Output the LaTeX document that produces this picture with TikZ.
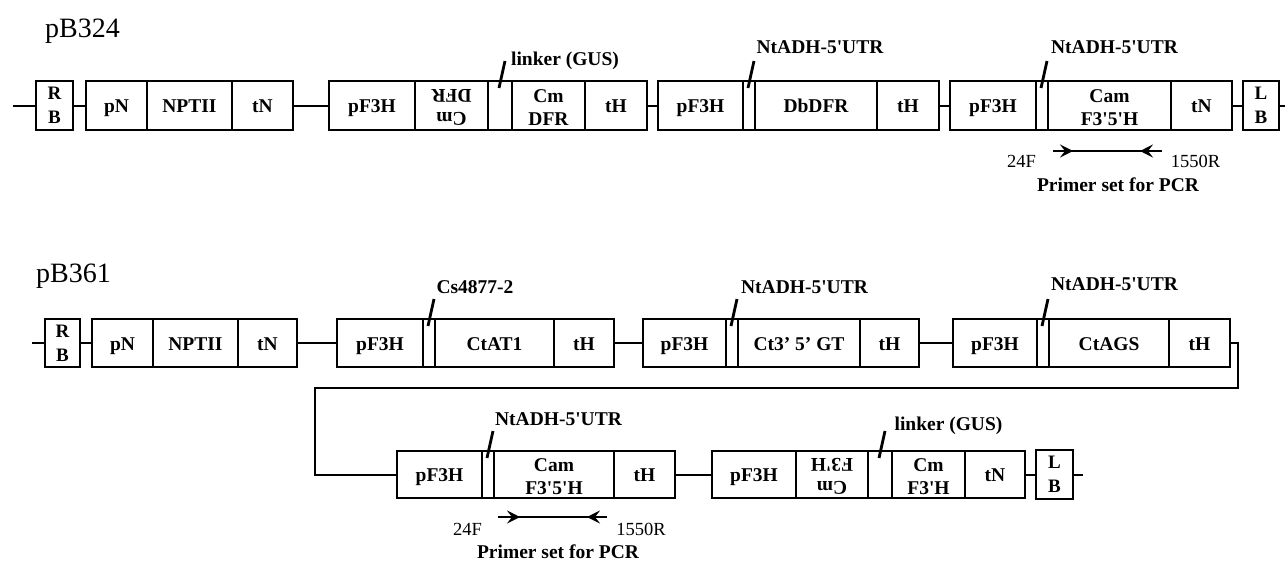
\documentclass[tikz,border=0pt]{standalone}
\usepackage{fontspec}
\usepackage{graphicx}
\setmainfont{Liberation Serif}
\usetikzlibrary{arrows.meta}
\newcommand\flipped[1]{\rotatebox[origin=c]{180}{\begin{tabular}{@{}c@{}}#1\end{tabular}}}
\newcommand\sq{\textquotesingle}
\begin{document}
\begin{tikzpicture}[x=1pt,y=-1pt,
  gene/.style={draw, line width=2pt, inner sep=0pt, outer sep=0pt, anchor=west, align=center,
    font=\bfseries\fontsize{19.5}{23}\selectfont},
  one/.style={text height=14pt, text depth=0pt},
  two/.style={text height=39pt, text depth=0pt},
  rowA/.style={gene, minimum height=49pt},
  rowB/.style={gene, minimum height=48pt},
  rowC/.style={gene, minimum height=47pt},
  border/.style={line width=2.2pt, font=\bfseries\fontsize{19}{24}\selectfont},
  wire/.style={line width=2pt},
  slash/.style={line width=2.8pt},
  lab/.style={anchor=base, inner sep=0pt, font=\bfseries\fontsize{19.5}{23}\selectfont},
  num/.style={anchor=base, inner sep=0pt, font=\fontsize{18.5}{22}\selectfont},
  title/.style={anchor=base west, inner sep=0pt, font=\fontsize{28}{32}\selectfont},
  primer/.style={line width=2pt},
  ptip/.style={line width=2pt, -{Stealth[length=13pt,width=13pt,inset=5pt]}}
]
\useasboundingbox (0,0) rectangle (1285,560);

% ---------- pB324 ----------
\node[title] (t1) at (45,37) {pB324};
\node[rowA, border, minimum width=37pt] (rb1) at (36,105.5) {R\\B};
\node[rowA, one, minimum width=61pt] (pn1) at (86,105.5) {pN};
\node[rowA, one, minimum width=85pt] (np1) at (147,105.5) {NPTII};
\node[rowA, one, minimum width=61pt] (tn1) at (232,105.5) {tN};
\node[rowA, one, minimum width=86pt] (pf1a) at (329,105.5) {pF3H};
\node[rowA, minimum width=73pt] (cmr1) at (415,105.5) {\flipped{Cm\\DFR}};
\node[rowA, minimum width=24pt] (lk1) at (488,105.5) {};
\node[rowA, two, minimum width=73pt] (cm1) at (512,105.5) {Cm\\DFR};
\node[rowA, one, minimum width=62pt] (th1a) at (585,105.5) {tH};
\node[rowA, one, minimum width=85pt] (pf1b) at (658,105.5) {pF3H};
\node[rowA, minimum width=12pt] (u1b) at (743,105.5) {};
\node[rowA, one, minimum width=122pt] (db1) at (755,105.5) {DbDFR};
\node[rowA, one, minimum width=62pt] (th1b) at (877,105.5) {tH};
\node[rowA, one, minimum width=86pt] (pf1c) at (950,105.5) {pF3H};
\node[rowA, minimum width=12pt] (u1c) at (1036,105.5) {};
\node[rowA, two, minimum width=123pt] (cam1) at (1048,105.5) {Cam\\F3\sq5\sq H};
\node[rowA, one, minimum width=61pt] (tn1b) at (1171,105.5) {tN};
\node[rowA, border, minimum width=36pt] (lb1) at (1243,105.5) {L\\B};
\coordinate (s1) at (13,105.5);
\coordinate (e1) at (1285,105.5);
\draw[wire] (s1) -- (rb1);
\draw[wire] (rb1) -- (pn1);
\draw[wire] (tn1) -- (pf1a);
\draw[wire] (th1a) -- (pf1b);
\draw[wire] (th1b) -- (pf1c);
\draw[wire] (tn1b) -- (lb1);
\draw[wire] (lb1) -- (e1);

\node[lab] (ll1) at (565,65) {linker (GUS)};
\node[lab] (lu1b) at (820,53) {NtADH-5\sq UTR};
\node[lab] (lu1c) at (1114.5,53) {NtADH-5\sq UTR};
\draw[slash] ([xshift=-1pt,yshift=-7pt]lk1.north) -- ([xshift=5pt,yshift=20pt]lk1.north);
\draw[slash] ([xshift=-1pt,yshift=-7pt]u1b.north) -- ([xshift=5pt,yshift=20pt]u1b.north);
\draw[slash] ([xshift=-1pt,yshift=-7pt]u1c.north) -- ([xshift=5pt,yshift=20pt]u1c.north);

\coordinate (pa1) at (1053,151);
\coordinate (pb1) at (1162,151);
\draw[primer] (pa1) -- (pb1);
\draw[ptip] (pa1) -- ++(20,0);
\draw[ptip] (pb1) -- ++(-22,0);
\node[num] (f1) at (1021.5,167) {24F};
\node[num] (r1) at (1195.5,167) {1550R};
\node[lab] (ps1) at (1118,191) {Primer set for PCR};

% ---------- pB361 ----------
\node[title] (t2) at (36,282) {pB361};
\node[rowB, border, minimum width=35pt] (rb2) at (45,343) {R\\B};
\node[rowB, one, minimum width=61pt] (pn2) at (92,343) {pN};
\node[rowB, one, minimum width=85pt] (np2) at (153,343) {NPTII};
\node[rowB, one, minimum width=59pt] (tn2) at (238,343) {tN};
\node[rowB, one, minimum width=86pt] (pf2a) at (337,343) {pF3H};
\node[rowB, minimum width=12pt] (u2a) at (423,343) {};
\node[rowB, one, minimum width=119pt] (at2) at (435,343) {CtAT1};
\node[rowB, one, minimum width=60pt] (th2a) at (554,343) {tH};
\node[rowB, one, minimum width=83pt] (pf2b) at (643,343) {pF3H};
\node[rowB, minimum width=12pt] (u2b) at (726,343) {};
\node[rowB, one, minimum width=122pt] (gt2) at (738,343) {Ct3’ 5’ GT};
\node[rowB, one, minimum width=59pt] (th2b) at (860,343) {tH};
\node[rowB, one, minimum width=84pt] (pf2c) at (953,343) {pF3H};
\node[rowB, minimum width=12pt] (u2c) at (1037,343) {};
\node[rowB, one, minimum width=120pt] (ags2) at (1049,343) {CtAGS};
\node[rowB, one, minimum width=61pt] (th2c) at (1169,343) {tH};
\coordinate (s2) at (32,343);
\draw[wire] (s2) -- (rb2);
\draw[wire] (rb2) -- (pn2);
\draw[wire] (tn2) -- (pf2a);
\draw[wire] (th2a) -- (pf2b);
\draw[wire] (th2b) -- (pf2c);

\node[lab] (lc2) at (475,293) {Cs4877-2};
\node[lab] (lu2b) at (804.5,293) {NtADH-5\sq UTR};
\node[lab] (lu2c) at (1114.5,290) {NtADH-5\sq UTR};
\draw[slash] ([xshift=-1pt,yshift=-7pt]u2a.north) -- ([xshift=5pt,yshift=20pt]u2a.north);
\draw[slash] ([xshift=-1pt,yshift=-7pt]u2b.north) -- ([xshift=5pt,yshift=20pt]u2b.north);
\draw[slash] ([xshift=-1pt,yshift=-7pt]u2c.north) -- ([xshift=5pt,yshift=20pt]u2c.north);

% second line of pB361
\node[rowC, one, minimum width=85pt] (pf3a) at (397,474.5) {pF3H};
\node[rowC, minimum width=12pt] (u3a) at (482,474.5) {};
\node[rowC, two, minimum width=120pt] (cam3) at (494,474.5) {Cam\\F3\sq5\sq H};
\node[rowC, one, minimum width=61pt] (th3a) at (614,474.5) {tH};
\node[rowC, one, minimum width=84pt] (pf3b) at (712,474.5) {pF3H};
\node[rowC, minimum width=72pt] (cmr3) at (796,474.5) {\flipped{Cm\\F3\sq H}};
\node[rowC, minimum width=24pt] (lk3) at (868,474.5) {};
\node[rowC, two, minimum width=73pt] (cm3) at (892,474.5) {Cm\\F3\sq H};
\node[rowC, one, minimum width=60pt] (tn3) at (965,474.5) {tN};
\node[rowC, border, minimum width=37pt, minimum height=49pt] (lb3) at (1036,474.5) {L\\B};
\coordinate (e3) at (1083,474.5);
\coordinate (c1) at (1238,388);
\coordinate (c2) at (315,388);
\draw[wire] (th2c.east) -| (c1) -- (c2) |- (pf3a.west);
\draw[wire] (th3a) -- (pf3b);
\draw[wire] (tn3) -- (lb3);
\draw[wire] (lb3) -- (e3);

\node[lab] (lu3a) at (558.5,425) {NtADH-5\sq UTR};
\node[lab] (ll3) at (948.5,430) {linker (GUS)};
\draw[slash] ([xshift=-1pt,yshift=-7pt]u3a.north) -- ([xshift=5pt,yshift=20pt]u3a.north);
\draw[slash] ([xshift=-1pt,yshift=-7pt]lk3.north) -- ([xshift=5pt,yshift=20pt]lk3.north);

\coordinate (pa3) at (498,517);
\coordinate (pb3) at (607,517);
\draw[primer] (pa3) -- (pb3);
\draw[ptip] (pa3) -- ++(22,0);
\draw[ptip] (pb3) -- ++(-20,0);
\node[num] (f3) at (467.5,535) {24F};
\node[num] (r3) at (641,535) {1550R};
\node[lab] (ps3) at (558,558) {Primer set for PCR};
\end{tikzpicture}
\end{document}
